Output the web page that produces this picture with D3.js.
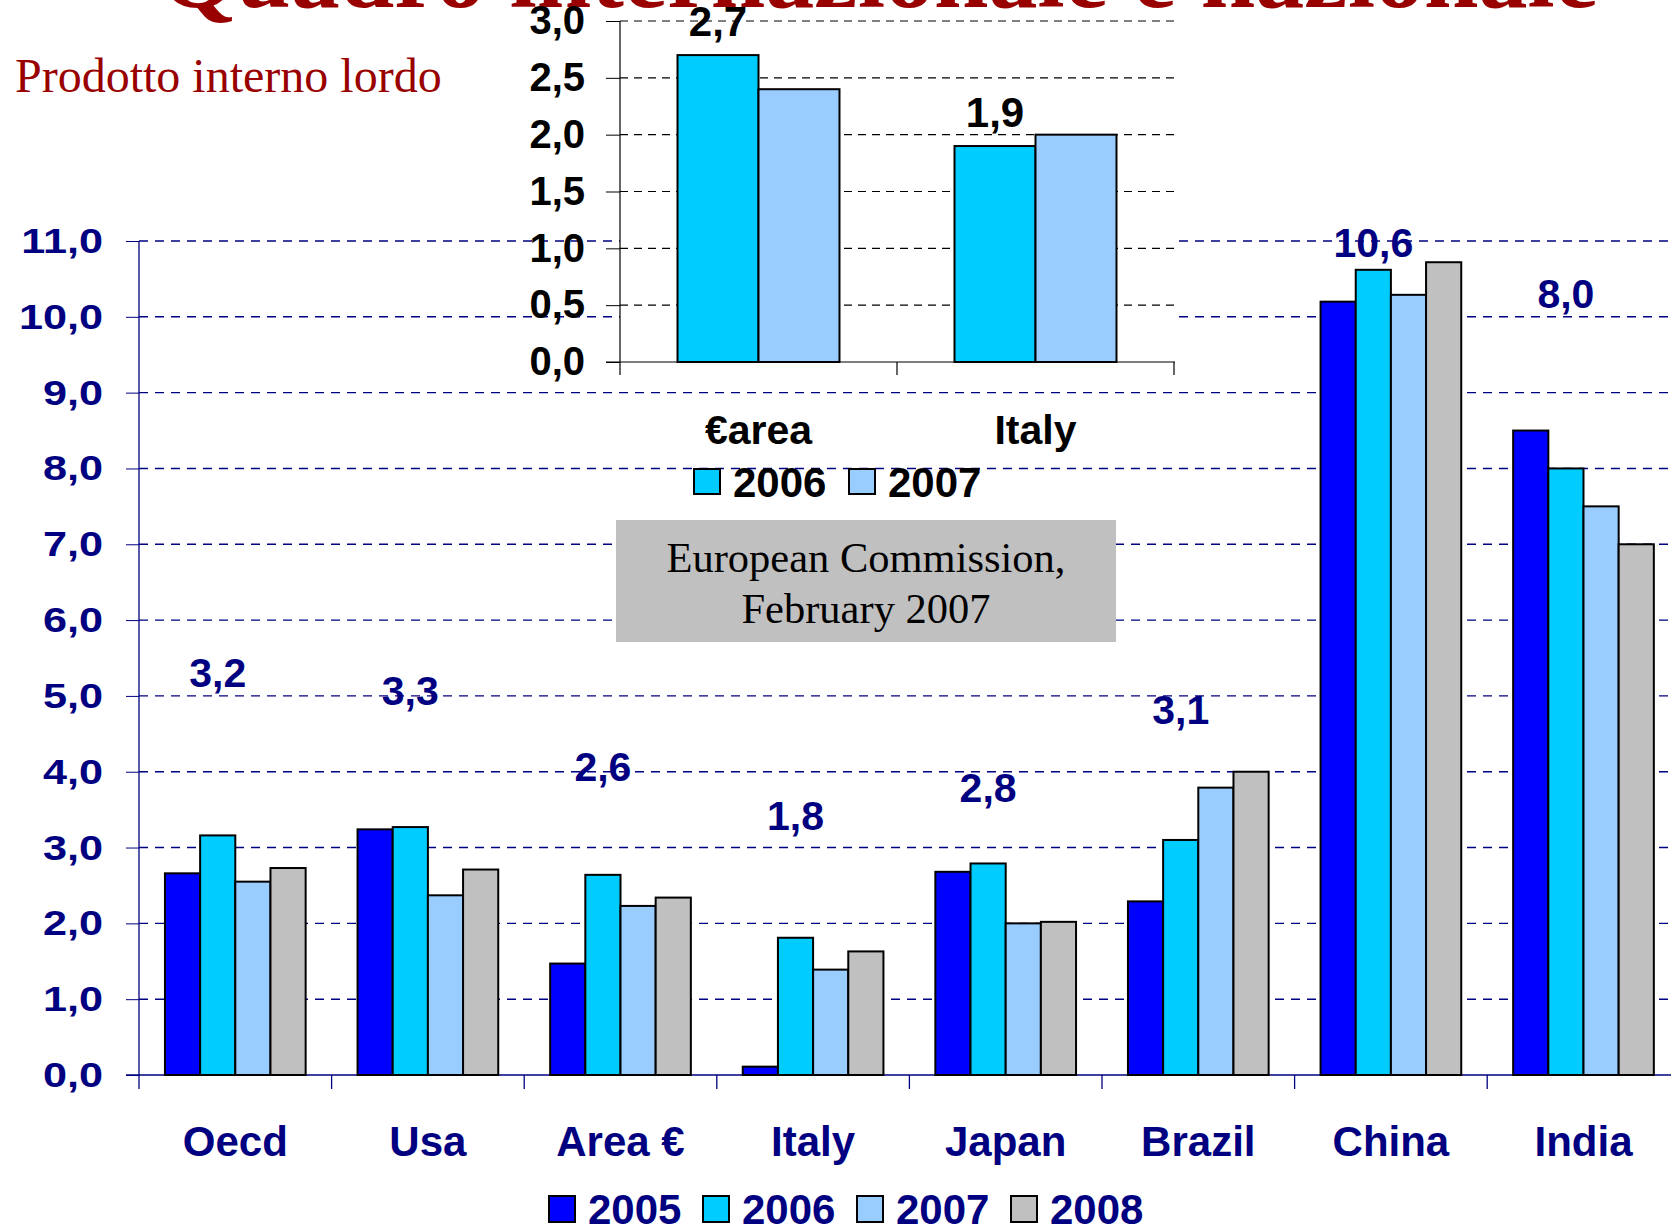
<!DOCTYPE html>
<html>
<head>
<meta charset="utf-8">
<script src="https://cdn.jsdelivr.net/npm/d3@7"></script>
<style>
  body { margin: 0; background: #fff; }
  text { font-family: "Liberation Sans", Arial, sans-serif; }
  .serif { font-family: "Liberation Serif", "Times New Roman", serif; }
</style>
</head>
<body>
<div id="chart"></div>
<script>
// main chart data (GDP growth, %)
var categories = ["Oecd", "Usa", "Area €", "Italy", "Japan", "Brazil", "China", "India"];
var years = ["2005", "2006", "2007", "2008"];
var gdp2005 = [2.66, 3.24, 1.47, 0.11, 2.68, 2.29, 10.2, 8.5];
var gdp2006 = [3.16, 3.27, 2.64, 1.81, 2.79, 3.1, 10.62, 8.0];
var gdp2007 = [2.55, 2.37, 2.23, 1.39, 2.0, 3.79, 10.29, 7.5];
var gdp2008 = [2.73, 2.71, 2.34, 1.63, 2.02, 4.0, 10.72, 7.0];
// heights (in % units) where the 2006 value labels sit
var labelAt = [5.3, 5.07, 4.06, 3.41, 3.78, 4.82, 10.98, 10.3];
var yTicks = [0, 1, 2, 3, 4, 5, 6, 7, 8, 9, 10, 11];

// inset data
var insetCategories = ["€area", "Italy"];
var insetYears = ["2006", "2007"];
var inset2006 = [2.7, 1.9];
var inset2007 = [2.4, 2.0];
var insetTicks = [0, 0.5, 1, 1.5, 2, 2.5, 3];

function whenDocumentLoaded(action) {
  if (document.readyState === "loading") {
    document.addEventListener("DOMContentLoaded", action);
  } else {
    action();
  }
}

function fmt(d) {
  return d3.format(".1f")(d).replace(".", ",");
}

function draw() {
  var width = 1671, height = 1226;
  var navy = "#000080";
  var color = d3.scaleOrdinal()
    .domain(years)
    .range(["#0000ff", "#00ccff", "#99ccff", "#c0c0c0"]);

  var svg = d3.select("#chart")
    .append("svg")
    .attr("width", width)
    .attr("height", height);

  svg.append("text")
    .attr("class", "serif")
    .attr("x", 15)
    .attr("y", 92)
    .style("font-size", "48px")
    .style("fill", "#990000")
    .text("Prodotto interno lordo");

  // ---------------------------//
  //       MAIN CHART           //
  // ---------------------------//
  var left = 139;
  var y = d3.scaleLinear().domain([0, 11]).range([1075, 241]);
  var x0 = d3.scaleBand()
    .domain(categories)
    .range([left, left + categories.length * 192.6]);
  var x1 = d3.scaleBand()
    .domain(years)
    .range([0, x0.bandwidth()])
    .paddingInner(0)
    .paddingOuter(0.738);

  // grid
  svg.append("g")
    .selectAll("line")
    .data(yTicks.filter(d => d > 0))
    .enter()
    .append("line")
    .attr("x1", left)
    .attr("x2", width)
    .attr("y1", d => y(d))
    .attr("y2", d => y(d))
    .style("stroke", navy)
    .style("stroke-width", 1.4)
    .style("stroke-dasharray", "9,7");

  // y axis
  var gY = svg.append("g")
    .attr("transform", "translate(" + left + ",0)")
    .call(d3.axisLeft(y).tickValues(yTicks).tickSize(13).tickSizeOuter(0).tickFormat(fmt));
  gY.select(".domain").remove();
  gY.selectAll("line").style("stroke", navy);
  gY.selectAll("text")
    .attr("x", -36 / 1.2)
    .attr("transform", "scale(1.2,1)")
    .style("font-size", "36px")
    .style("font-weight", "bold")
    .style("fill", navy);

  svg.append("line")
    .attr("x1", left).attr("x2", left)
    .attr("y1", y(11)).attr("y2", y(0) + 14)
    .style("stroke", navy).style("stroke-width", 1.3);

  // x axis
  svg.append("line")
    .attr("x1", left - 13).attr("x2", width)
    .attr("y1", y(0)).attr("y2", y(0))
    .style("stroke", navy).style("stroke-width", 1.3);

  svg.append("g")
    .selectAll("line")
    .data(categories.slice(1))
    .enter()
    .append("line")
    .attr("x1", d => x0(d)).attr("x2", d => x0(d))
    .attr("y1", y(0)).attr("y2", y(0) + 14)
    .style("stroke", navy).style("stroke-width", 1.3);

  // bars
  var series = [gdp2005, gdp2006, gdp2007, gdp2008];
  var rows = categories.map(function(c, i) {
    return { cat: c, values: years.map((yr, j) => ({ year: yr, value: series[j][i] })) };
  });

  svg.append("g")
    .selectAll("g")
    .data(rows)
    .enter()
    .append("g")
    .attr("transform", d => "translate(" + x0(d.cat) + ",0)")
    .selectAll("rect")
    .data(d => d.values)
    .enter()
    .append("rect")
    .attr("x", d => x1(d.year))
    .attr("y", d => y(d.value))
    .attr("width", x1.bandwidth())
    .attr("height", d => y(0) - y(d.value))
    .style("fill", d => color(d.year))
    .style("stroke", "#000")
    .style("stroke-width", 2);

  // 2006 value labels
  svg.append("g")
    .selectAll("text")
    .data(categories)
    .enter()
    .append("text")
    .attr("x", d => x0(d) + x1("2006") + x1.bandwidth() / 2)
    .attr("y", (d, i) => y(labelAt[i]))
    .attr("text-anchor", "middle")
    .attr("dominant-baseline", "central")
    .style("font-size", "41px")
    .style("font-weight", "bold")
    .style("fill", navy)
    .text((d, i) => fmt(gdp2006[i]));

  // category labels
  svg.append("g")
    .selectAll("text")
    .data(categories)
    .enter()
    .append("text")
    .attr("x", d => x0(d) + x0.bandwidth() / 2)
    .attr("y", 1141)
    .attr("text-anchor", "middle")
    .attr("dominant-baseline", "central")
    .style("font-size", "42px")
    .style("font-weight", "bold")
    .style("fill", navy)
    .text(d => d);

  // legend
  var lg = svg.append("g")
    .selectAll("g")
    .data(years)
    .enter()
    .append("g")
    .attr("transform", (d, i) => "translate(" + (549 + i * 154) + ",1196)");
  lg.append("rect")
    .attr("width", 26).attr("height", 26)
    .style("fill", d => color(d))
    .style("stroke", "#000").style("stroke-width", 2);
  lg.append("text")
    .attr("x", 39).attr("y", 13)
    .attr("dominant-baseline", "central")
    .style("font-size", "42px")
    .style("font-weight", "bold")
    .style("fill", navy)
    .text(d => d);

  // ---------------------------//
  //       INSET                //
  // ---------------------------//
  var iLeft = 620, iRight = 1175;
  var yi = d3.scaleLinear().domain([0, 3]).range([362, 21]);
  var xi0 = d3.scaleBand().domain(insetCategories).range([iLeft, iRight - 1]);
  var xi1 = d3.scaleBand()
    .domain(insetYears)
    .range([0, xi0.bandwidth()])
    .paddingInner(0)
    .paddingOuter(0.71);

  svg.append("rect")
    .attr("x", iLeft).attr("y", 0)
    .attr("width", iRight - iLeft).attr("height", 378)
    .style("fill", "#fff");

  // title sits above the inset background, cut off by the page top
  svg.append("text")
    .attr("class", "serif")
    .attr("x", 160)
    .attr("y", 7)
    .style("font-size", "98px")
    .style("font-weight", "bold")
    .style("fill", "#990000")
    .text("Quadro internazionale e nazionale");

  svg.append("g")
    .selectAll("line")
    .data(insetTicks.filter(d => d > 0))
    .enter()
    .append("line")
    .attr("x1", iLeft).attr("x2", iRight)
    .attr("y1", d => yi(d)).attr("y2", d => yi(d))
    .style("stroke", "#000")
    .style("stroke-width", 1.2)
    .style("stroke-dasharray", "8,6");

  var gYi = svg.append("g")
    .attr("transform", "translate(" + iLeft + ",0)")
    .call(d3.axisLeft(yi).tickValues(insetTicks).tickSize(14).tickSizeOuter(0).tickFormat(fmt));
  gYi.select(".domain").remove();
  gYi.selectAll("line").style("stroke", "#000");
  gYi.selectAll("text")
    .attr("x", -35)
    .style("font-size", "40px")
    .style("font-weight", "bold")
    .style("fill", "#000");

  svg.append("line")
    .attr("x1", iLeft).attr("x2", iLeft)
    .attr("y1", yi(3)).attr("y2", yi(0) + 13)
    .style("stroke", "#000").style("stroke-width", 1.2);
  svg.append("line")
    .attr("x1", iLeft - 14).attr("x2", iRight)
    .attr("y1", yi(0)).attr("y2", yi(0))
    .style("stroke", "#000").style("stroke-width", 1.2);
  svg.append("g")
    .selectAll("line")
    .data(insetCategories.slice(1).map(d => xi0(d)).concat([xi0.range()[1]]))
    .enter()
    .append("line")
    .attr("x1", d => d).attr("x2", d => d)
    .attr("y1", yi(0)).attr("y2", yi(0) + 13)
    .style("stroke", "#000").style("stroke-width", 1.2);

  var iSeries = [inset2006, inset2007];
  var iRows = insetCategories.map(function(c, i) {
    return { cat: c, values: insetYears.map((yr, j) => ({ year: yr, value: iSeries[j][i] })) };
  });

  svg.append("g")
    .selectAll("g")
    .data(iRows)
    .enter()
    .append("g")
    .attr("transform", d => "translate(" + xi0(d.cat) + ",0)")
    .selectAll("rect")
    .data(d => d.values)
    .enter()
    .append("rect")
    .attr("x", d => xi1(d.year))
    .attr("y", d => yi(d.value))
    .attr("width", xi1.bandwidth())
    .attr("height", d => yi(0) - yi(d.value))
    .style("fill", d => color(d.year))
    .style("stroke", "#000")
    .style("stroke-width", 2);

  svg.append("g")
    .selectAll("text")
    .data(insetCategories)
    .enter()
    .append("text")
    .attr("x", d => xi0(d) + xi1("2006") + xi1.bandwidth() / 2)
    .attr("y", (d, i) => yi(inset2006[i]) - 34)
    .attr("text-anchor", "middle")
    .attr("dominant-baseline", "central")
    .style("font-size", "42px")
    .style("font-weight", "bold")
    .style("fill", "#000")
    .text((d, i) => fmt(inset2006[i]));

  svg.append("g")
    .selectAll("text")
    .data(insetCategories)
    .enter()
    .append("text")
    .attr("x", d => xi0(d) + xi0.bandwidth() / 2)
    .attr("y", 430)
    .attr("text-anchor", "middle")
    .attr("dominant-baseline", "central")
    .style("font-size", "41px")
    .style("font-weight", "bold")
    .style("fill", "#000")
    .text(d => d);

  var ilg = svg.append("g")
    .selectAll("g")
    .data(insetYears)
    .enter()
    .append("g")
    .attr("transform", (d, i) => "translate(" + (694 + i * 155) + ",469)");
  ilg.append("rect")
    .attr("width", 26).attr("height", 25)
    .style("fill", d => color(d))
    .style("stroke", "#000").style("stroke-width", 2);
  ilg.append("text")
    .attr("x", 39).attr("y", 13)
    .attr("dominant-baseline", "central")
    .style("font-size", "42px")
    .style("font-weight", "bold")
    .style("fill", "#000")
    .text(d => d);

  // source box
  svg.append("rect")
    .attr("x", 616).attr("y", 520)
    .attr("width", 500).attr("height", 122)
    .style("fill", "#c0c0c0");
  svg.append("g")
    .selectAll("text")
    .data(["European Commission,", "February 2007"])
    .enter()
    .append("text")
    .attr("class", "serif")
    .attr("x", 866)
    .attr("y", (d, i) => 557 + i * 51)
    .attr("text-anchor", "middle")
    .attr("dominant-baseline", "central")
    .style("font-size", "42.5px")
    .style("fill", "#000")
    .text(d => d);
}

whenDocumentLoaded(draw);
</script>
</body>
</html>
